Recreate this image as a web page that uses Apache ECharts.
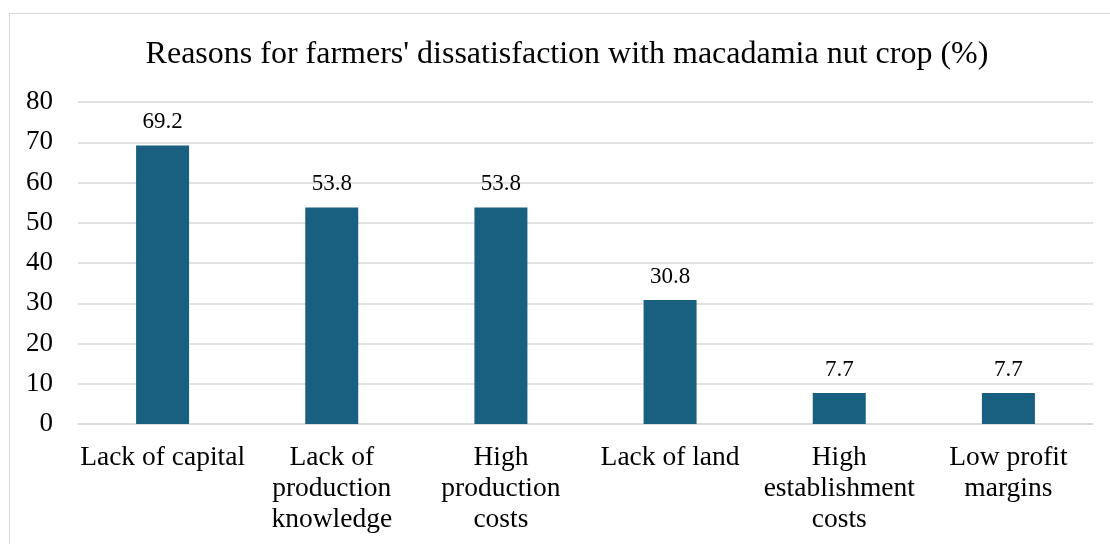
<!DOCTYPE html>
<html>
<head>
<meta charset="utf-8">
<script src="https://cdn.jsdelivr.net/npm/echarts@6/dist/echarts.min.js"></script>
<style>
html,body{margin:0;padding:0;background:#fff;}
#frame{position:absolute;left:9px;top:13px;width:1120px;height:560px;border:1px solid #d9d9d9;box-sizing:border-box;}
#chart{position:absolute;left:0;top:0;width:1110px;height:544px;}
</style>
</head>
<body>
<div id="frame"></div>
<div id="chart"></div>
<script>
const categories = ["Lack of capital", "Lack of\nproduction\nknowledge", "High\nproduction\ncosts", "Lack of land", "High\nestablishment\ncosts", "Low profit\nmargins"];
const values = [69.2, 53.8, 53.8, 30.8, 7.7, 7.7];
const titleText = "Reasons for farmers' dissatisfaction with macadamia nut crop (%)";

const font = "'Liberation Serif', 'Times New Roman', serif";
const chart = echarts.init(document.getElementById('chart'), null, {renderer: 'canvas'});
chart.setOption({
  animation: false,
  textStyle: {fontFamily: font},
  title: {
    text: titleText,
    left: 562, top: 34, textAlign: 'center',
    textStyle: {fontFamily: font, fontSize: 32, fontWeight: 'normal', color: '#000'}
  },
  grid: {left: 78, right: 17, top: 102, bottom: 120, containLabel: false},
  xAxis: {
    type: 'category', data: categories,
    axisLine: {show: true, lineStyle: {color: '#d9d9d9', width: 1.5}},
    axisTick: {show: false},
    axisLabel: {fontFamily: font, fontSize: 27.5, color: '#000', lineHeight: 31, margin: 18, interval: 0}
  },
  yAxis: {
    type: 'value', min: 0, max: 80, interval: 10,
    axisLine: {show: false}, axisTick: {show: false},
    splitLine: {lineStyle: {color: '#d9d9d9', width: 1.5}},
    axisLabel: {fontFamily: font, fontSize: 27, color: '#000', margin: 25}
  },
  series: [{
    type: 'bar', data: values, barWidth: 53,
    itemStyle: {color: '#185f80'},
    label: {show: true, position: 'top', distance: 12, fontFamily: font, fontSize: 23, color: '#000'}
  }]
});
</script>
</body>
</html>
